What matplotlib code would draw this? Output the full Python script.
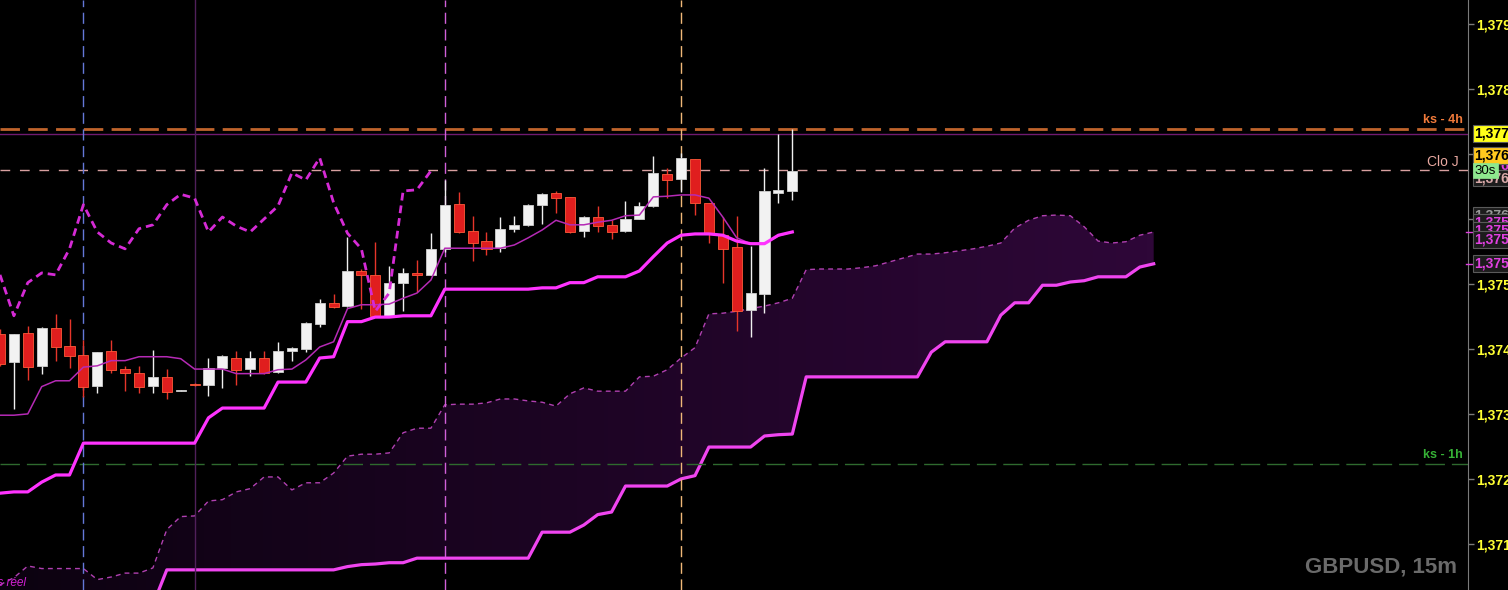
import numpy as np
import matplotlib.pyplot as plt
from matplotlib.colors import LinearSegmentedColormap
from matplotlib.ticker import FuncFormatter

plt.rcParams['font.family'] = ['Liberation Sans', 'DejaVu Sans']
plt.rcParams['font.weight'] = 'bold'

# ---------------- data (GBPUSD 15m, ichimoku) ----------------
opens = [1.37423, 1.37380, 1.37425, 1.37374, 1.37432, 1.37405, 1.37391, 1.37343, 1.37397, 1.37369,
         1.37363, 1.37343, 1.37357, 1.37335, 1.37346, 1.37345, 1.37371, 1.37386, 1.37369, 1.37386,
         1.37365, 1.37397, 1.37400, 1.37438, 1.37471, 1.37466, 1.37520, 1.37514, 1.37451, 1.37502,
         1.37517, 1.37514, 1.37554, 1.37623, 1.37582, 1.37566, 1.37555, 1.37585, 1.37591, 1.37622,
         1.37640, 1.37634, 1.37582, 1.37603, 1.37591, 1.37582, 1.37600, 1.37620, 1.37669, 1.37662,
         1.37692, 1.37625, 1.37575, 1.37557, 1.37460, 1.37485, 1.37640, 1.37643]
highs = [1.37430, 1.37423, 1.37435, 1.37434, 1.37454, 1.37446, 1.37414, 1.37395, 1.37414, 1.37374,
         1.37374, 1.37398, 1.37369, 1.37337, 1.37347, 1.37386, 1.37391, 1.37397, 1.37397, 1.37397,
         1.37411, 1.37403, 1.37442, 1.37477, 1.37485, 1.37572, 1.37523, 1.37565, 1.37528, 1.37525,
         1.37537, 1.37578, 1.37660, 1.37642, 1.37605, 1.37580, 1.37603, 1.37605, 1.37623, 1.37640,
         1.37643, 1.37634, 1.37605, 1.37620, 1.37598, 1.37628, 1.37626, 1.37697, 1.37678, 1.37702,
         1.37692, 1.37625, 1.37603, 1.37605, 1.37558, 1.37678, 1.37731, 1.37738]
lows = [1.37374, 1.37308, 1.37352, 1.37362, 1.37382, 1.37371, 1.37326, 1.37332, 1.37363, 1.37335,
        1.37332, 1.37332, 1.37323, 1.37335, 1.37343, 1.37328, 1.37340, 1.37345, 1.37358, 1.37362,
        1.37363, 1.37382, 1.37395, 1.37434, 1.37463, 1.37465, 1.37462, 1.37449, 1.37451, 1.37458,
        1.37488, 1.37514, 1.37549, 1.37578, 1.37535, 1.37545, 1.37549, 1.37580, 1.37589, 1.37592,
        1.37609, 1.37578, 1.37572, 1.37580, 1.37569, 1.37580, 1.37600, 1.37618, 1.37632, 1.37642,
        1.37606, 1.37563, 1.37502, 1.37428, 1.37418, 1.37455, 1.37625, 1.37629]
closes = [1.37377, 1.37423, 1.37372, 1.37432, 1.37403, 1.37389, 1.37342, 1.37395, 1.37368, 1.37363,
          1.37342, 1.37357, 1.37334, 1.37336, 1.37344, 1.37371, 1.37389, 1.37368, 1.37386, 1.37363,
          1.37397, 1.37402, 1.37440, 1.37471, 1.37465, 1.37520, 1.37514, 1.37451, 1.37502, 1.37517,
          1.37514, 1.37554, 1.37622, 1.37580, 1.37563, 1.37554, 1.37585, 1.37591, 1.37622, 1.37638,
          1.37632, 1.37580, 1.37603, 1.37589, 1.37580, 1.37600, 1.37620, 1.37671, 1.37660, 1.37694,
          1.37625, 1.37578, 1.37554, 1.37458, 1.37486, 1.37643, 1.37645, 1.37674]

tenkan = [1.37298, 1.37298, 1.37300, 1.37342, 1.37351, 1.37351, 1.37372, 1.37374, 1.37382, 1.37382,
          1.37388, 1.37388, 1.37388, 1.37385, 1.37369, 1.37369, 1.37369, 1.37362, 1.37362, 1.37362,
          1.37368, 1.37369, 1.37383, 1.37403, 1.37411, 1.37462, 1.37468, 1.37468, 1.37469, 1.37478,
          1.37486, 1.37506, 1.37555, 1.37555, 1.37555, 1.37555, 1.37555, 1.37560, 1.37571, 1.37583,
          1.37598, 1.37591, 1.37591, 1.37595, 1.37598, 1.37605, 1.37606, 1.37634, 1.37635, 1.37637,
          1.37637, 1.37632, 1.37603, 1.37571, 1.37562, 1.37562, 1.37574, 1.37580]
kijun = [1.37178, 1.37180, 1.37180, 1.37195, 1.37206, 1.37206, 1.37255, 1.37255, 1.37255, 1.37255,
         1.37255, 1.37255, 1.37255, 1.37255, 1.37255, 1.37294, 1.37309, 1.37309, 1.37309, 1.37309,
         1.37349, 1.37349, 1.37349, 1.37386, 1.37388, 1.37442, 1.37442, 1.37449, 1.37449, 1.37451,
         1.37451, 1.37451, 1.37492, 1.37492, 1.37492, 1.37492, 1.37492, 1.37492, 1.37492, 1.37494,
         1.37494, 1.37502, 1.37502, 1.37511, 1.37511, 1.37511, 1.37520, 1.37542, 1.37563, 1.37575,
         1.37577, 1.37577, 1.37575, 1.37566, 1.37562, 1.37562, 1.37575, 1.37580]

span_a = [1.37037, 1.37048, 1.37066, 1.37062, 1.37062, 1.37062, 1.37062, 1.37045, 1.37049, 1.37055,
          1.37055, 1.37063, 1.37122, 1.37142, 1.37143, 1.37166, 1.37168, 1.37180, 1.37185, 1.37203,
          1.37203, 1.37183, 1.37194, 1.37194, 1.37209, 1.37235, 1.37238, 1.37238, 1.37240, 1.37271,
          1.37278, 1.37278, 1.37314, 1.37315, 1.37315, 1.37317, 1.37323, 1.37323, 1.37320, 1.37318,
          1.37312, 1.37331, 1.37340, 1.37335, 1.37335, 1.37335, 1.37357, 1.37358, 1.37368, 1.37386,
          1.37402, 1.37454, 1.37455, 1.37458, 1.37462, 1.37466, 1.37471, 1.37478, 1.37522, 1.37523,
          1.37523, 1.37523, 1.37525, 1.37528, 1.37534, 1.37540, 1.37546, 1.37546, 1.37548, 1.37551,
          1.37554, 1.37558, 1.37563, 1.37586, 1.37598, 1.37605, 1.37606, 1.37605, 1.37588, 1.37566,
          1.37563, 1.37565, 1.37575, 1.37580]
span_b = [1.36983, 1.36983, 1.36983, 1.36983, 1.36983, 1.36983, 1.36983, 1.36983, 1.36983, 1.36983,
          1.36983, 1.37006, 1.37060, 1.37060, 1.37060, 1.37060, 1.37060, 1.37060, 1.37060, 1.37060,
          1.37060, 1.37060, 1.37060, 1.37060, 1.37060, 1.37065, 1.37068, 1.37069, 1.37071, 1.37071,
          1.37078, 1.37078, 1.37078, 1.37078, 1.37078, 1.37078, 1.37078, 1.37078, 1.37078, 1.37118,
          1.37118, 1.37118, 1.37129, 1.37145, 1.37149, 1.37189, 1.37189, 1.37189, 1.37189, 1.37200,
          1.37205, 1.37249, 1.37249, 1.37249, 1.37249, 1.37266, 1.37268, 1.37269, 1.37357, 1.37357,
          1.37357, 1.37357, 1.37357, 1.37357, 1.37357, 1.37357, 1.37357, 1.37395, 1.37411, 1.37411,
          1.37411, 1.37411, 1.37452, 1.37471, 1.37471, 1.37498, 1.37498, 1.37503, 1.37505, 1.37511,
          1.37511, 1.37511, 1.37526, 1.37531]
shift = 26

ks_4h = 1.37738
last_line = 1.37731
clo_j = 1.37675
ks_1h = 1.37223
session_bars = [6, 14, 32, 49]

yticks = [1.371, 1.372, 1.373, 1.374, 1.375, 1.376, 1.377, 1.378, 1.379]
tag_values = [1.37605, 1.37594, 1.37583, 1.37568, 1.37531, 1.37683, 1.37663, 1.37698, 1.37731]
tag_colors = ['#9a9a9a', '#e040e0', '#e040e0', '#e040e0', '#e040e0', '#e040e0', '#d8a8a8', 'black', 'black']
tag_faces = ['#1c1c1c', '#1c1c1c', '#1c1c1c', '#1c1c1c', '#1c1c1c', '#1c1c1c', '#1c1c1c', '#ffc81e', '#ffff1a']

# ---------------- figure ----------------
W, H, PW = 1508, 590, 1468
fig = plt.figure(figsize=(W / 100, H / 100), dpi=100, facecolor='black')
ax = fig.add_axes([0, 0, PW / W, 1])
ax.set_facecolor('black')

x = np.arange(len(closes))
xf = np.arange(len(span_a))
o = np.array(opens); c = np.array(closes)

# kumo with horizontal gradient
band = ax.fill_between(xf, span_a, span_b, color='none', lw=0)
kumo = LinearSegmentedColormap.from_list('kumo', ['#0c0210', '#2e0738'])
im = ax.imshow(np.linspace(0, 1, 256)[None, :], cmap=kumo, aspect='auto',
               extent=[xf[0], xf[-1], 1.3690, 1.3800], zorder=1, interpolation='bilinear')
im.set_clip_path(band.get_paths()[0], transform=ax.transData)
ax.plot(xf, span_a, color='#b040b0', lw=1, dashes=(3.5, 3), zorder=2)
ax.plot(xf, span_b, color='#f045f0', lw=2.3, zorder=2)

# reference levels
ax.axhline(ks_4h, color='#c0642c', lw=2, dashes=(7, 3), zorder=2)
ax.axhline(last_line, color='#701a70', lw=1, zorder=2)
ax.axhline(clo_j, color='#d8a0a0', lw=1, dashes=(7, 7), zorder=2)
ax.axhline(ks_1h, color='#2e6a2e', lw=1, dashes=(14, 5), zorder=2)
vcols = ['#6478d8', '#50205a', '#d060d8', '#f0b878']
for b, col in zip(session_bars, vcols):
    if col == '#50205a':
        ax.axvline(b, color=col, lw=1, zorder=2)
    else:
        ax.axvline(b, color=col, lw=1, dashes=(8, 4), zorder=2)

# candles
up = c >= o
lo_b = np.minimum(o, c)
hgt = np.maximum(np.abs(c - o), 0.00002)
ax.vlines(x[up], np.array(lows)[up], np.array(highs)[up], color='#f0f0f0', lw=1, zorder=3)
ax.vlines(x[~up], np.array(lows)[~up], np.array(highs)[~up], color='#e6352a', lw=1, zorder=3)
ax.bar(x[up], hgt[up], bottom=lo_b[up], width=0.72, color='#f2f2f2', edgecolor='#cfcfcf', lw=0.6, zorder=4)
ax.bar(x[~up], hgt[~up], bottom=lo_b[~up], width=0.72, color='#e01e1e', edgecolor='#ff5a3a', lw=0.6, zorder=4)

# ichimoku lines
ax.plot(x, tenkan, color='#b52ab5', lw=1.1, zorder=5)
ax.plot(x, kijun, color='#ff33ff', lw=2.3, zorder=5)
ax.plot(x[:len(closes) - shift], closes[shift:], color='#d52ad5', lw=2, dashes=(2.8, 1.8), zorder=5)

ax.set_xlim(0, PW / 13.9)
ax.set_ylim(1.37029, 1.37937)

# right price axis
ax.yaxis.tick_right()
ax.set_yticks(yticks)
ax.yaxis.set_major_formatter(FuncFormatter(lambda v, p: f'{v:.3f}'.replace('.', ',')))
ax.tick_params(axis='y', direction='out', length=4, width=1, color='#7a7a7a',
               labelcolor='#ffff33', labelsize=10, pad=2)
ax.set_xticks([])
for s in ['top', 'left', 'bottom']:
    ax.spines[s].set_visible(False)
ax.spines['right'].set_color('#7a7a7a')

trans = ax.get_yaxis_transform()
for v, tc, fc in zip(tag_values, tag_colors, tag_faces):
    ax.text(1.0045, v, f'{v:.5f}'.replace('.', ','), transform=trans, ha='left', va='center',
            fontsize=10, color=tc, clip_on=False, zorder=10,
            bbox=dict(boxstyle='square,pad=0.1', fc=fc, ec='#5a5a5a', lw=0.8))
ax.text(1.0045, clo_j - 0.00001, '30s', transform=trans, ha='left', va='center', fontsize=9.5,
        fontweight='normal', color='black', clip_on=False, zorder=11,
        bbox=dict(boxstyle='square,pad=0.12', fc='#8ee88e', ec='#8ee88e', lw=0.5))
for v in [kijun[-1], span_b[-1]]:
    ax.plot([1 - 2 / PW, 1 + 4 / PW], [v, v], transform=trans, color='#e040e0', lw=1, clip_on=False, zorder=9)

# level labels
ax.annotate('ks - 4h', xy=(1463 / PW, ks_4h), xycoords=trans, xytext=(0, 6.5), textcoords='offset points',
            ha='right', va='center', color='#f07a3a', fontsize=9)
ax.annotate('Clo J', xy=(1459 / PW, clo_j), xycoords=trans, xytext=(0, 6), textcoords='offset points',
            ha='right', va='center', color='#e8a8a0', fontsize=10, fontweight='normal')
ax.annotate('ks - 1h', xy=(1463 / PW, ks_1h), xycoords=trans, xytext=(0, 6.5), textcoords='offset points',
            ha='right', va='center', color='#36b036', fontsize=9)

ax.text(26 / PW, 7 / H, 'Cours réel', transform=ax.transAxes, ha='right', va='center',
        color='#d020d0', fontsize=8.5, style='italic', fontweight='normal')
fig.text(1457 / W, 1 - 567 / H, 'GBPUSD, 15m', ha='right', va='center', color='#6a6a6a', fontsize=16)

fig.savefig('out.png', dpi=100, facecolor='black')
